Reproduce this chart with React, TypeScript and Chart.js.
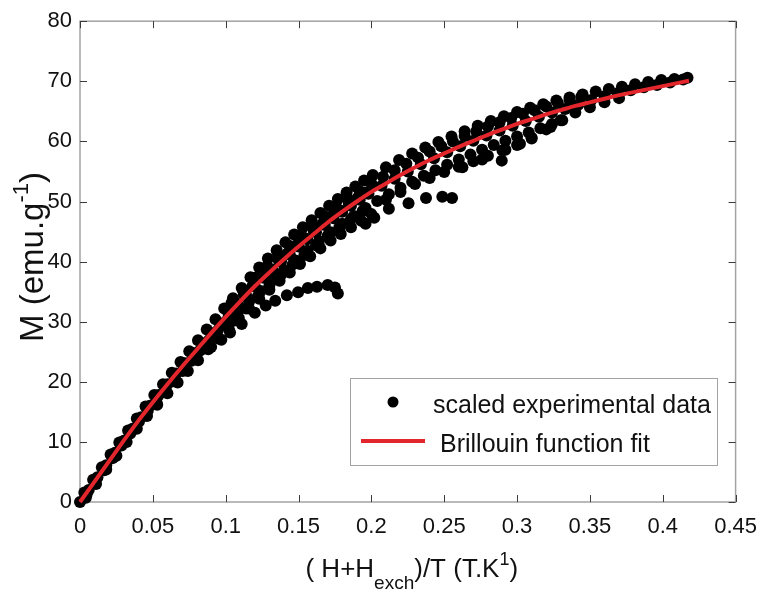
import { useEffect, useRef } from 'react';
import { Chart, registerables } from 'chart.js';

Chart.register(...registerables);

// Brillouin function fit
const fitX = [0, 0.01, 0.02, 0.03, 0.04, 0.05, 0.06, 0.07, 0.08, 0.09, 0.1, 0.11, 0.12, 0.13, 0.14, 0.15, 0.16, 0.17, 0.18, 0.19, 0.2, 0.21, 0.22, 0.23, 0.24, 0.25, 0.26, 0.27, 0.28, 0.29, 0.3, 0.31, 0.32, 0.33, 0.34, 0.35, 0.36, 0.37, 0.38, 0.39, 0.4, 0.41, 0.418];
const fitY = [0, 3.4, 6.8, 10.2, 13.5, 16.6, 19.6, 22.5, 25.3, 28.1, 30.8, 33.4, 35.9, 38.2, 40.4, 42.5, 44.5, 46.5, 48.3, 50.0, 51.6, 53.0, 54.4, 55.7, 56.9, 58.0, 59.1, 60.1, 61.1, 62.0, 62.9, 63.7, 64.5, 65.2, 65.9, 66.5, 67.1, 67.7, 68.2, 68.7, 69.2, 69.7, 70.1];

const expUpper: [number, number][] = [[0.003, 1.6], [0.009, 3.7], [0.015, 5.8], [0.021, 7.9], [0.027, 9.9], [0.033, 11.9], [0.039, 13.9], [0.045, 15.9], [0.051, 17.8], [0.057, 19.6], [0.063, 21.5], [0.069, 23.3], [0.075, 25.1], [0.081, 26.9], [0.087, 28.7], [0.093, 30.4], [0.099, 32.2], [0.105, 33.9], [0.111, 35.6], [0.117, 37.4], [0.123, 39.0], [0.129, 40.5], [0.135, 41.9], [0.141, 43.2], [0.147, 44.5], [0.153, 45.7], [0.159, 46.9], [0.165, 48.1], [0.171, 49.3], [0.177, 50.4], [0.183, 51.5], [0.189, 52.5], [0.195, 53.5], [0.201, 54.4], [0.21, 55.7], [0.219, 56.9], [0.228, 58.0], [0.237, 59.0], [0.246, 59.9], [0.255, 60.8], [0.264, 61.7], [0.273, 62.6], [0.282, 63.4], [0.291, 64.2], [0.3, 64.9], [0.309, 65.6], [0.318, 66.2], [0.327, 66.8], [0.336, 67.3], [0.345, 67.8], [0.354, 68.3], [0.363, 68.7], [0.372, 69.1], [0.381, 69.5], [0.39, 69.9], [0.399, 70.2], [0.408, 70.4], [0.417, 70.6]];
const expMid: [number, number][] = [[0, 0], [0.006, 2.0], [0.012, 4.1], [0.018, 6.1], [0.024, 8.2], [0.03, 10.2], [0.036, 12.2], [0.042, 14.1], [0.048, 16.0], [0.054, 17.8], [0.06, 19.6], [0.066, 21.4], [0.072, 23.1], [0.078, 24.8], [0.084, 26.4], [0.09, 28.1], [0.096, 29.7], [0.102, 31.3], [0.108, 32.9], [0.114, 34.4], [0.12, 35.9], [0.126, 37.3], [0.132, 38.6], [0.138, 40.0], [0.144, 41.2], [0.15, 42.5], [0.156, 43.7], [0.162, 44.9], [0.168, 46.1], [0.174, 47.2], [0.18, 48.3], [0.186, 49.3], [0.192, 50.3], [0.198, 51.3], [0.207, 52.6], [0.216, 53.8], [0.225, 55.0], [0.234, 56.2], [0.243, 57.2], [0.252, 58.2], [0.261, 59.2], [0.27, 60.1], [0.279, 61.0], [0.288, 61.8], [0.297, 62.6], [0.306, 63.4], [0.315, 64.1], [0.324, 64.8], [0.333, 65.4], [0.342, 66.1], [0.351, 66.9], [0.36, 67.5], [0.369, 68.0], [0.378, 68.5], [0.387, 69.0], [0.396, 69.4], [0.405, 69.8], [0.414, 70.3]];
const expLow: [number, number][] = [[0.004, 0.7], [0.011, 3.0], [0.018, 5.4], [0.025, 7.7], [0.032, 10.0], [0.039, 12.2], [0.046, 14.3], [0.053, 16.2], [0.06, 18.1], [0.067, 19.9], [0.074, 21.8], [0.081, 23.6], [0.088, 25.4], [0.095, 27.2], [0.102, 28.9], [0.109, 30.6], [0.116, 32.2], [0.123, 33.8], [0.13, 35.3], [0.137, 36.8], [0.144, 38.2], [0.151, 39.6], [0.158, 40.9], [0.165, 42.2], [0.172, 43.5], [0.179, 44.6], [0.186, 45.7], [0.193, 46.8], [0.2, 47.9], [0.21, 50.3], [0.22, 51.6], [0.23, 52.9], [0.24, 53.9], [0.25, 54.9], [0.26, 55.8], [0.27, 56.7], [0.28, 57.6], [0.29, 58.5], [0.3, 59.4], [0.31, 60.6], [0.32, 62.0], [0.33, 63.5], [0.34, 64.8], [0.35, 65.7], [0.36, 66.5], [0.37, 67.2]];
const expInnerLow: [number, number][] = [[0.1, 29.6], [0.108, 31.5], [0.116, 33.3], [0.124, 35.1], [0.132, 36.9], [0.14, 38.6], [0.148, 40.2], [0.156, 41.8], [0.164, 43.4], [0.172, 44.9], [0.18, 46.3], [0.188, 47.6], [0.196, 48.9], [0.204, 50.1], [0.212, 51.2], [0.22, 52.3], [0.228, 53.3], [0.236, 54.3], [0.244, 55.2], [0.252, 56.1], [0.26, 57.0], [0.268, 57.8], [0.276, 58.6], [0.284, 59.4], [0.292, 60.1], [0.3, 60.8], [0.308, 61.5], [0.316, 62.2], [0.324, 62.9]];
const expInnerHigh: [number, number][] = [[0.104, 33.1], [0.112, 35.2], [0.12, 37.3], [0.128, 39.1], [0.136, 40.9], [0.144, 42.6], [0.152, 44.3], [0.16, 45.9], [0.168, 47.5], [0.176, 49.0], [0.184, 50.3], [0.192, 51.7], [0.2, 53.0], [0.208, 54.1], [0.216, 55.2], [0.224, 56.3], [0.232, 57.3], [0.24, 58.3], [0.248, 59.2], [0.256, 60.0], [0.264, 60.9], [0.272, 61.7], [0.28, 62.5], [0.288, 63.2], [0.296, 63.9], [0.304, 64.6], [0.312, 65.2], [0.32, 65.8], [0.328, 66.4], [0.336, 66.9], [0.344, 67.4]];
const expNearFit: [number, number][] = [[0.0045, 1.2], [0.0105, 3.3], [0.0165, 5.3], [0.0225, 7.3], [0.0285, 9.4], [0.0345, 11.4], [0.0405, 13.4], [0.0465, 15.2], [0.0525, 16.6], [0.0585, 18.4], [0.0645, 20.1], [0.0705, 21.8], [0.0765, 23.5], [0.0825, 25.2], [0.0885, 26.9], [0.0945, 28.5], [0.1005, 30.1], [0.1065, 33.0], [0.1125, 34.5], [0.1185, 36.0], [0.1245, 37.5], [0.1305, 38.8], [0.1365, 40.1], [0.1425, 41.4], [0.1485, 42.7], [0.1545, 43.9], [0.1605, 45.1], [0.1665, 46.3], [0.1725, 47.5], [0.1785, 48.5], [0.1845, 49.6], [0.1905, 50.6], [0.1965, 51.5]];
const expBelowFit: [number, number][] = [[0.106, 30.2], [0.114, 32.2], [0.122, 34.2], [0.13, 36.0], [0.138, 37.8], [0.146, 39.5], [0.154, 41.1], [0.162, 42.7], [0.17, 44.3], [0.178, 45.7], [0.186, 47.1], [0.194, 48.4]];
const branchA: [number, number][] = [[0.09, 25.8], [0.097, 27.0], [0.103, 28.2], [0.111, 29.6], [0.12, 31.5], [0.1275, 32.7], [0.134, 33.5], [0.142, 34.4], [0.1497, 34.9], [0.1564, 35.6], [0.1627, 35.8], [0.17, 36.1], [0.175, 35.7], [0.177, 34.7]];
const branchB: [number, number][] = [[0.196, 46.3], [0.202, 47.3], [0.212, 48.8], [0.2255, 49.7], [0.2375, 50.6], [0.2487, 50.8], [0.2554, 50.6]];
const branchC: [number, number][] = [[0.2625, 55.7], [0.276, 57.0], [0.2895, 56.8], [0.292, 58.6], [0.302, 59.6], [0.31, 60.5], [0.323, 62.4], [0.331, 63.5]];

const xTickValues = [0, 0.05, 0.1, 0.15, 0.2, 0.25, 0.3, 0.35, 0.4, 0.45];
const xTickLabels = ['0', '0.05', '0.1', '0.15', '0.2', '0.25', '0.3', '0.35', '0.4', '0.45'];
const yTickValues = [0, 10, 20, 30, 40, 50, 60, 70, 80];
const yTickLabels = ['0', '10', '20', '30', '40', '50', '60', '70', '80'];
const legendLabels = ['scaled experimental data', 'Brillouin function fit'];

const FONT = '"Liberation Sans", Arial, Helvetica, sans-serif';
const RED = '#e3262b';

type Seg = { t: string; size: number; dy: number };

function drawSegs(ctx: CanvasRenderingContext2D, segs: Seg[], cx: number, baseY: number) {
  let total = 0;
  segs.forEach((s) => {
    ctx.font = `${s.size}px ${FONT}`;
    total += ctx.measureText(s.t).width;
  });
  let x = cx - total / 2;
  ctx.textAlign = 'left';
  ctx.textBaseline = 'alphabetic';
  segs.forEach((s) => {
    ctx.font = `${s.size}px ${FONT}`;
    ctx.fillText(s.t, x, baseY + s.dy);
    x += ctx.measureText(s.t).width;
  });
}

const decor = {
  id: 'decor',
  beforeDatasetsDraw(chart: any) {
    const { ctx, chartArea: a, scales } = chart;
    ctx.save();
    ctx.strokeStyle = '#a3a3a3';
    ctx.lineWidth = 1.5;
    ctx.strokeRect(a.left, a.top, a.right - a.left, a.bottom - a.top);
    ctx.strokeStyle = '#3a3a3a';
    ctx.lineWidth = 1;
    const L = 7;
    const seg = (x1: number, y1: number, x2: number, y2: number) => {
      ctx.beginPath();
      ctx.moveTo(x1, y1);
      ctx.lineTo(x2, y2);
      ctx.stroke();
    };
    scales.x.ticks.forEach((t: any) => {
      const px = Math.round(scales.x.getPixelForValue(t.value)) + 0.5;
      seg(px, a.bottom, px, a.bottom - L);
      seg(px, a.top, px, a.top + L);
    });
    scales.y.ticks.forEach((t: any) => {
      const py = Math.round(scales.y.getPixelForValue(t.value)) + 0.5;
      seg(a.left, py, a.left + L, py);
      seg(a.right, py, a.right - L, py);
    });
    ctx.restore();
  },
  afterDraw(chart: any) {
    const { ctx, chartArea: a } = chart;
    ctx.save();
    ctx.fillStyle = '#111';
    // x title
    drawSegs(
      ctx,
      [
        { t: '( H+H', size: 26, dy: 0 },
        { t: 'exch', size: 19, dy: 12 },
        { t: ')/T (T.K', size: 26, dy: 0 },
        { t: '1', size: 18, dy: -12 },
        { t: ')', size: 26, dy: 0 },
      ],
      (a.left + a.right) / 2 + 4,
      577
    );
    // y title
    ctx.save();
    ctx.translate(43, 257);
    ctx.rotate(-Math.PI / 2);
    drawSegs(
      ctx,
      [
        { t: 'M (emu.g', size: 33, dy: 0 },
        { t: '-1', size: 22, dy: -15 },
        { t: ')', size: 33, dy: 0 },
      ],
      0,
      0
    );
    ctx.restore();
    // legend
    const bx = 350.5, by = 378.5, bw = 367, bh = 87;
    ctx.fillStyle = '#fff';
    ctx.fillRect(bx, by, bw, bh);
    ctx.strokeStyle = '#a3a3a3';
    ctx.lineWidth = 1;
    ctx.strokeRect(bx, by, bw, bh);
    ctx.fillStyle = '#000';
    ctx.beginPath();
    ctx.arc(393, 402, 5.5, 0, Math.PI * 2);
    ctx.fill();
    ctx.strokeStyle = RED;
    ctx.lineWidth = 4;
    ctx.beginPath();
    ctx.moveTo(361, 441);
    ctx.lineTo(425, 441);
    ctx.stroke();
    ctx.fillStyle = '#111';
    ctx.font = `25px ${FONT}`;
    ctx.textAlign = 'left';
    ctx.textBaseline = 'alphabetic';
    ctx.fillText(legendLabels[0], 433, 413);
    ctx.fillText(legendLabels[1], 440, 452);
    ctx.restore();
  },
};

const toPts = (arr: [number, number][]) => arr.map(([x, y]) => ({ x, y }));

export default function App() {
  const ref = useRef<HTMLCanvasElement | null>(null);
  useEffect(() => {
    if (!ref.current) return;
    const dotStyle = {
      type: 'scatter' as const,
      showLine: false,
      pointRadius: 6,
      pointBackgroundColor: '#000',
      pointBorderWidth: 0,
      borderColor: '#000',
      backgroundColor: '#000',
      clip: false as any,
      order: 2,
    };
    const expSets = [expUpper, expMid, expLow, expInnerLow, expInnerHigh, expNearFit, expBelowFit, branchA, branchB, branchC];
    const chart = new Chart(ref.current, {
      type: 'scatter',
      data: {
        datasets: [
          {
            type: 'line',
            label: legendLabels[1],
            data: fitX.map((x, i) => ({ x, y: fitY[i] })),
            borderColor: RED,
            borderWidth: 4,
            pointRadius: 0,
            fill: false,
            tension: 0.4,
            cubicInterpolationMode: 'monotone',
            clip: false as any,
            order: 1,
          } as any,
          ...expSets.map((s, i) => ({ ...dotStyle, label: i === 0 ? legendLabels[0] : '', data: toPts(s) })),
        ],
      },
      options: {
        responsive: false,
        animation: false,
        layout: { padding: { top: 15, right: 21, left: 0, bottom: 0 } },
        plugins: { legend: { display: false }, tooltip: { enabled: false } },
        scales: {
          x: {
            type: 'linear',
            min: 0,
            max: 0.45,
            afterBuildTicks: (s: any) => {
              s.ticks = xTickValues.map((v) => ({ value: v }));
            },
            afterFit: (s: any) => {
              s.height = 93;
            },
            grid: { display: false, drawTicks: false },
            border: { display: false },
            ticks: {
              callback: (_v: any, i: number) => xTickLabels[i],
              font: { size: 22, family: FONT },
              color: '#111',
              padding: 12,
              maxRotation: 0,
              autoSkip: false,
            },
          },
          y: {
            type: 'linear',
            min: 0,
            max: 80,
            afterBuildTicks: (s: any) => {
              s.ticks = yTickValues.map((v) => ({ value: v }));
            },
            afterFit: (s: any) => {
              s.width = 80;
            },
            grid: { display: false, drawTicks: false },
            border: { display: false },
            ticks: {
              callback: (_v: any, i: number) => yTickLabels[i],
              font: { size: 22, family: FONT },
              color: '#111',
              padding: 8,
              autoSkip: false,
            },
          },
        },
      },
      plugins: [decor],
    } as any);
    return () => chart.destroy();
  }, []);
  return (
    <div style={{ position: 'fixed', left: 0, top: 0, width: 769, height: 595, background: '#fff' }}>
      <canvas ref={ref} width={769} height={595} style={{ display: 'block' }} />
    </div>
  );
}
